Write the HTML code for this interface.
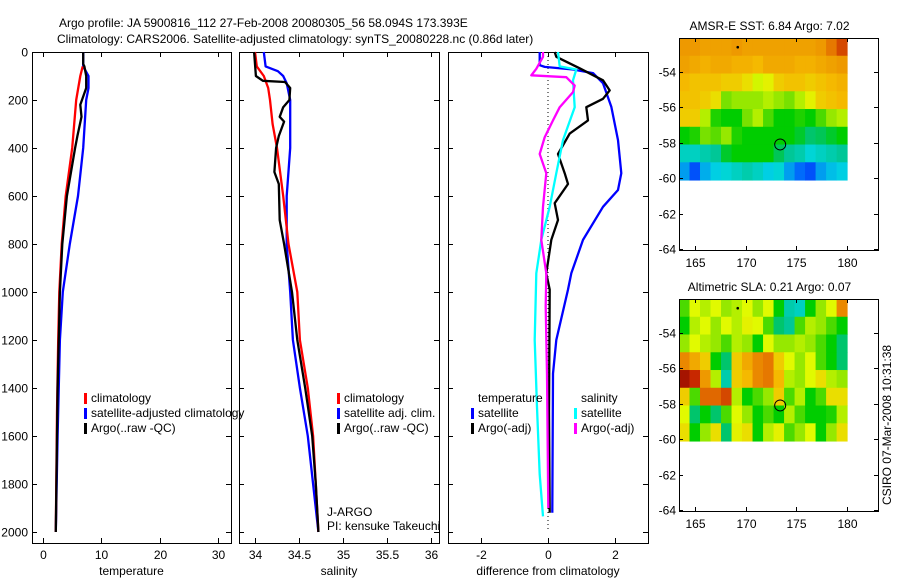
<!DOCTYPE html>
<html><head><meta charset="utf-8"><style>
html,body{margin:0;padding:0;background:#fff;width:900px;height:580px;overflow:hidden}
svg{display:block;font-family:"Liberation Sans",sans-serif}
text{font-size:12px;fill:#000}
</style></head><body>
<svg id="chart" width="900" height="580"></svg>
<script>
// ---- Temperature profiles ----
const tDepthClim=[60,100,200,400,600,800,1000,1200,1500,2000];
const tClim=[6.8,6.4,5.7,5.0,3.9,3.2,2.8,2.6,2.4,2.2];
const tDepthSat=[0,60,100,150,200,400,600,800,1000,1200,1600,2000];
const tSat=[6.9,6.9,7.8,7.8,7.4,6.9,6.0,4.6,3.4,2.9,2.5,2.2];
const tDepthArgo=[0,50,60,100,150,220,270,350,400,600,800,1000,1400,2000];
const tArgo=[6.9,6.9,7.1,7.4,7.4,6.4,6.6,5.9,5.5,4.1,3.3,2.9,2.5,2.2];
// ---- Salinity profiles ----
const sDepthClim=[0,60,100,150,200,300,400,600,800,1000,1200,1400,1600,1800,2000];
const sClim=[34.0,34.02,34.1,34.15,34.17,34.2,34.25,34.32,34.38,34.48,34.51,34.6,34.66,34.69,34.72];
const sDepthSat=[0,60,80,100,130,200,400,600,800,1000,1200,1400,1600,1800,2000];
const sSat=[34.1,34.12,34.26,34.32,34.36,34.4,34.4,34.36,34.36,34.4,34.43,34.51,34.6,34.66,34.72];
const sDepthArgo=[0,100,120,125,150,200,230,270,290,350,400,500,550,700,800,1000,1200,1400,1600,1800,2000];
const sArgo=[33.99,34.01,34.09,34.34,34.4,34.39,34.32,34.28,34.33,34.27,34.24,34.22,34.27,34.28,34.33,34.42,34.48,34.57,34.65,34.69,34.72];
// ---- Differences ----
const dDepthTS=[0,55,62,73,88,130,228,367,505,575,645,783,922,990,1200,1340,1920];
const dTSat=[-0.25,-0.25,-0.1,0.75,1.35,1.65,1.9,2.1,2.2,2.1,1.65,1.05,0.7,0.6,0.25,0.15,0.13];
const dDepthTA=[0,20,68,118,160,195,230,285,340,425,505,550,630,700,783,922,990,1500,1920];
const dTArgo=[0.2,0.25,0.95,1.65,1.85,1.65,1.15,1.2,0.65,0.3,0.5,0.6,0.2,0.3,0.1,-0.05,0.05,0.03,0.05];
const dDepthSS=[0,60,73,118,230,367,505,645,783,922,1200,1480,1760,1935];
const dSSat=[0.3,0.35,0.85,0.75,0.8,0.45,0.25,0.05,-0.2,-0.35,-0.4,-0.33,-0.25,-0.15];
const dDepthSA=[0,20,70,97,105,140,167,230,285,355,425,505,645,783,922,1060,1340,1900];
const dSArgo=[-0.15,-0.15,-0.35,-0.5,0.55,0.8,0.75,0.35,0.15,-0.1,-0.25,-0.05,-0.15,-0.2,-0.05,-0.07,-0.03,0.01];
// ---- Map grids (normalised colour value 0..1) ----
const sstGrid=[
[.76,.76,.75,.75,.75,.76,.75,.75,.75,.75,.75,.75,.75,.76,.8,.86],
[.75,.74,.73,.74,.74,.73,.73,.72,.74,.74,.74,.73,.73,.74,.75,.76],
[.72,.71,.71,.71,.7,.7,.68,.64,.66,.7,.71,.71,.7,.71,.72,.73],
[.71,.71,.7,.68,.58,.6,.6,.6,.62,.6,.58,.62,.66,.7,.71,.72],
[.7,.7,.62,.52,.5,.5,.58,.62,.55,.5,.5,.52,.5,.55,.6,.62],
[.5,.52,.58,.56,.6,.52,.5,.5,.5,.5,.5,.48,.45,.46,.48,.5],
[.38,.38,.4,.42,.48,.5,.5,.5,.5,.46,.42,.4,.36,.38,.4,.42],
[.28,.18,.3,.34,.36,.38,.4,.38,.34,.36,.28,.22,.18,.28,.32,.34]];
const slaGrid=[
[.55,.65,.62,.65,.6,.62,.65,.6,.65,.5,.4,.38,.5,.6,.65,.78],
[.5,.62,.65,.6,.65,.62,.66,.65,.55,.45,.42,.55,.62,.6,.55,.5],
[.6,.65,.62,.6,.55,.62,.6,.5,.65,.6,.6,.62,.6,.55,.5,.45],
[.78,.74,.7,.5,.45,.7,.74,.78,.8,.7,.65,.6,.65,.55,.5,.45],
[.95,.9,.76,.62,.4,.7,.72,.78,.8,.72,.62,.6,.65,.68,.62,.6],
[.7,.55,.82,.82,.86,.62,.5,.55,.6,.7,.55,.62,.5,.55,.68,.68],
[.65,.45,.5,.45,.55,.65,.6,.5,.55,.5,.62,.55,.5,.5,.52,.62],
[.68,.5,.6,.68,.45,.66,.68,.5,.62,.66,.55,.6,.65,.5,.6,.68]];
const depthTicks=[0,200,400,600,800,1000,1200,1400,1600,1800,2000];
const tTicks=[0,10,20,30];
const sTicks=[34,34.5,35,35.5,36];
const dTicks=[-2,0,2];
const latTicks=[-54,-56,-58,-60,-62,-64];
const lonTicks=[165,170,175,180];

const NS='http://www.w3.org/2000/svg';
const svg=document.getElementById('chart');
function el(tag,attrs,parent){const e=document.createElementNS(NS,tag);for(const k in attrs)e.setAttribute(k,attrs[k]);(parent||svg).appendChild(e);return e;}
function txt(x,y,s,anchor,parent,extra){const t=el('text',Object.assign({x:x,y:y,'text-anchor':anchor||'start'},extra||{}),parent);t.textContent=s;return t;}

const Y0=52,Y1=543;
const yD=d=>Y0+d*0.24;
const panels=[
 {name:'temperature',x0:32,x1:231,lo:-1.89,hi:32.25,ticks:tTicks,label:'temperature'},
 {name:'salinity',x0:239,x1:439,lo:33.818,hi:36.09,ticks:sTicks,label:'salinity'},
 {name:'difference',x0:448,x1:648,lo:-3.0,hi:3.0,ticks:dTicks,label:'difference from climatology'}];
panels.forEach(p=>{p.x=v=>p.x0+(v-p.lo)/(p.hi-p.lo)*(p.x1-p.x0);});

let t=txt(59,27,'Argo profile: JA 5900816_112 27-Feb-2008 20080305_56 58.094S 173.393E','start',null,{'font-size':'13'});

t=txt(57,43,'Climatology: CARS2006. Satellite-adjusted climatology: synTS_20080228.nc (0.86d later)','start',null,{'font-size':'13'});


panels.forEach((p,i)=>{
 const g=el('g',{});
 
 
 el('rect',{x:p.x0+0.5,y:Y0+0.5,width:p.x1-p.x0,height:Y1-Y0,fill:'none',stroke:'#000','stroke-width':1},g);
 depthTicks.forEach(d=>{
  const y=Math.round(yD(d))+0.5;
  el('line',{x1:p.x0,x2:p.x0+5,y1:y,y2:y,stroke:'#000'},g);
  el('line',{x1:p.x1-5,x2:p.x1,y1:y,y2:y,stroke:'#000'},g);
  if(i===0){const l=txt(28,y+4,String(d),'end',g);}
 });
 p.ticks.forEach(v=>{
  const x=Math.round(p.x(v))+0.5;
  el('line',{x1:x,x2:x,y1:Y1,y2:Y1-5,stroke:'#000'},g);
  el('line',{x1:x,x2:x,y1:Y0,y2:Y0+5,stroke:'#000'},g);
  const l=txt(x,559,String(v),'middle',g);
  
 });
 const xl=txt((p.x0+p.x1)/2,575,p.label,'middle',g);
 
});
const zl=el('line',{x1:panels[2].x(0),x2:panels[2].x(0),y1:Y0,y2:yD(2000),stroke:'#000','stroke-dasharray':'1,3'});


function line(p,depths,vals,color,name){
 const pts=depths.map((d,i)=>p.x(vals[i]).toFixed(1)+','+yD(d).toFixed(1)).join(' ');
 const pl=el('polyline',{points:pts,fill:'none',stroke:color,'stroke-width':2.3,'stroke-linejoin':'round'});
 
 
}
line(panels[0],tDepthSat,tSat,'#0000ff','temperature-satellite-line');
line(panels[0],tDepthClim,tClim,'#ff0000','temperature-climatology-line');
line(panels[0],tDepthArgo,tArgo,'#000','temperature-argo-line');
line(panels[1],sDepthSat,sSat,'#0000ff','salinity-satellite-line');
line(panels[1],sDepthClim,sClim,'#ff0000','salinity-climatology-line');
line(panels[1],sDepthArgo,sArgo,'#000','salinity-argo-line');
line(panels[2],dDepthTS,dTSat,'#0000ff','diff-temperature-satellite-line');
line(panels[2],dDepthTA,dTArgo,'#000','diff-temperature-argo-line');
line(panels[2],dDepthSS,dSSat,'#00ffff','diff-salinity-satellite-line');
line(panels[2],dDepthSA,dSArgo,'#ff00ff','diff-salinity-argo-line');

function legend(x,y,items,name){
 const g=el('g',{});
 
 
 items.forEach((it,i)=>{
  const yy=y+i*15;
  if(it[1])el('rect',{x:x,y:yy-9,width:3,height:11,fill:it[1]},g);
  txt(x+7,yy,it[0],'start',g);
 });
}
legend(84,402,[['climatology','#ff0000'],['satellite-adjusted climatology','#0000ff'],['Argo(..raw -QC)','#000']],'temperature-legend');
legend(337,402,[['climatology','#ff0000'],['satellite adj. clim.','#0000ff'],['Argo(..raw -QC)','#000']],'salinity-legend');
legend(471,402,[['temperature',null],['satellite','#0000ff'],['Argo(-adj)','#000']],'diff-temperature-legend');
legend(574,402,[['salinity',null],['satellite','#00ffff'],['Argo(-adj)','#ff00ff']],'diff-salinity-legend');
t=txt(327,516,'J-ARGO');
t=txt(327,530,'PI: kensuke Takeuchi');

// colour map stops
const cStops=[[0,[0,0,200]],[0.2,[0,90,255]],[0.35,[0,215,225]],[0.44,[0,195,130]],[0.5,[0,205,0]],[0.58,[120,225,0]],[0.65,[225,250,0]],[0.72,[245,185,0]],[0.8,[230,120,0]],[0.9,[200,40,0]],[1,[130,0,0]]];
function cmap(v){
 for(let i=1;i<cStops.length;i++){
  if(v<=cStops[i][0]){const a=cStops[i-1],b=cStops[i];const f=(v-a[0])/(b[0]-a[0]);
   return 'rgb('+a[1].map((c,k)=>Math.round(c+(b[1][k]-c)*f)).join(',')+')';}
 }
 return 'rgb(130,0,0)';
}
function map(top,grid,title,name){
 const L=679,R=878,B=top+212;
 const lon0=163.4,lon1=183.05,lat0=-52.08,lat1=-64.05;
 const X=lo=>L+(lo-lon0)/(lon1-lon0)*(R-L);
 const Y=la=>top+(la-lat0)/(lat1-lat0)*(B-top);
 const g=el('g',{});
 
 
 const rows=grid.length,cols=grid[0].length;
 const gl0=163.4,gl1=180,gt=-52.08,gb=-60.1;
 grid.forEach((row,r)=>row.forEach((v,c)=>{
  const x0=X(gl0+(gl1-gl0)*c/cols),x1=X(gl0+(gl1-gl0)*(c+1)/cols);
  const y0=Y(gt+(gb-gt)*r/rows),y1=Y(gt+(gb-gt)*(r+1)/rows);
  const cell=el('rect',{x:x0,y:y0,width:x1-x0+0.5,height:y1-y0+0.5,fill:cmap(v)},g);
  
  
 }));
 el('rect',{x:L+0.5,y:top+0.5,width:R-L,height:B-top,fill:'none',stroke:'#000'},g);
 latTicks.forEach(la=>{const y=Math.round(Y(la))+0.5;
  el('line',{x1:L,x2:L+4,y1:y,y2:y,stroke:'#000'},g);el('line',{x1:R-4,x2:R,y1:y,y2:y,stroke:'#000'},g);
  txt(L-3,y+4,String(la),'end',g);});
 lonTicks.forEach(lo=>{const x=Math.round(X(lo))+0.5;
  el('line',{x1:x,x2:x,y1:B,y2:B-4,stroke:'#000'},g);el('line',{x1:x,x2:x,y1:top,y2:top+4,stroke:'#000'},g);
  txt(x,B+17,String(lo),'middle',g);});
 el('circle',{cx:X(173.39),cy:Y(-58.09),r:5.5,fill:'none',stroke:'#000'},g);
 el('circle',{cx:X(169.2),cy:Y(-52.6),r:1.3,fill:'#000'},g);
 const tt=txt((L+R)/2-9,top-8,title,'middle',g);
 
}
map(38,sstGrid,'AMSR-E SST: 6.84  Argo: 7.02','sst-map');
map(299,slaGrid,'Altimetric SLA: 0.21  Argo: 0.07','sla-map');
t=txt(0,0,'CSIRO 07-Mar-2008 10:31:38','middle',null,{transform:'translate(891,425) rotate(-90)'});

</script>
</body></html>
